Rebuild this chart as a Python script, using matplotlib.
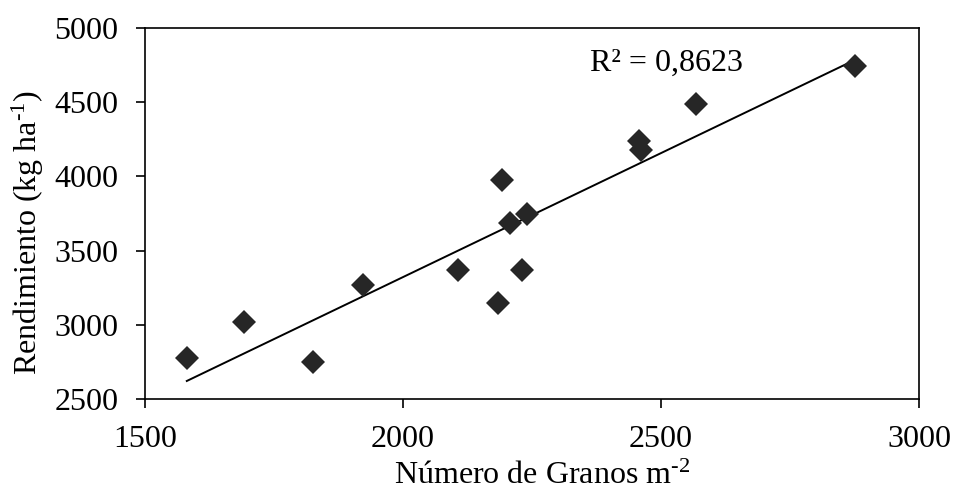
import numpy as np
import matplotlib
matplotlib.use("Agg")
import matplotlib.pyplot as plt

# Grain number per m² vs. grain yield
granos = [1581, 1692, 1825, 1922, 2106, 2185, 2192, 2207, 2231, 2241, 2458, 2461, 2568, 2876]
rendimiento = [2778, 3022, 2748, 3266, 3367, 3146, 3977, 3688, 3367, 3745, 4240, 4180, 4485, 4745]
r2_text = "R² = 0,8623"

x_ticks = [1500, 2000, 2500, 3000]
y_ticks = [2500, 3000, 3500, 4000, 4500, 5000]

plt.rcParams["font.family"] = ["Liberation Serif", "DejaVu Serif"]
plt.rcParams["mathtext.fontset"] = "custom"
plt.rcParams["mathtext.rm"] = "Liberation Serif"
plt.rcParams["mathtext.it"] = "Liberation Serif:italic"
plt.rcParams["mathtext.bf"] = "Liberation Serif:bold"

FS = 23

fig = plt.figure(figsize=(9.55, 4.91), dpi=100)
ax = fig.add_axes([145 / 955, 1 - 399 / 491, (919 - 145) / 955, (399 - 28) / 491])

x = np.array(granos, dtype=float)
y = np.array(rendimiento, dtype=float)

# linear trend line over the observed range
slope, intercept = np.polyfit(x, y, 1)
xl = np.array([x.min(), x.max()])
ax.plot(xl, slope * xl + intercept, color="black", lw=1.4, zorder=2)

ax.plot(x, y, linestyle="none", marker="D", markersize=12,
        color="#262626", markeredgewidth=0, zorder=3)

ax.text(2362, 4711, r2_text, fontsize=FS, va="baseline", ha="left")

ax.set_xlim(1500, 3000)
ax.set_ylim(2500, 5000)
ax.set_xticks(x_ticks)
ax.set_yticks(y_ticks)
ax.tick_params(axis="both", direction="out", length=6.5, width=1.2,
               labelsize=FS, pad=12.5, color="black")

for sp in ax.spines.values():
    sp.set_linewidth(1.2)
    sp.set_color("black")

ax.set_xlabel(r"Número de Granos m$^{\text{-2}}$", fontsize=FS, labelpad=5)
ax.set_ylabel(r"Rendimiento (kg ha$^{\text{-1}}$)", fontsize=FS, labelpad=6)
ax.xaxis.label.set_x(0.513)
ax.yaxis.label.set_y(0.45)

fig.savefig("out.png", dpi=100)
